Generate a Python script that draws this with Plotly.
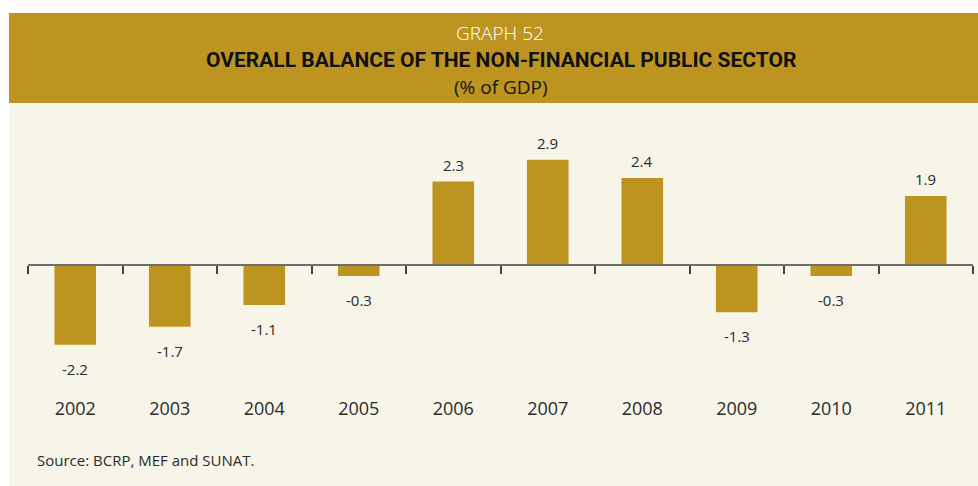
import plotly.graph_objects as go

# Overall balance of the non-financial public sector, % of GDP
years = ["2002", "2003", "2004", "2005", "2006", "2007", "2008", "2009", "2010", "2011"]
balance = [-2.2, -1.7, -1.1, -0.3, 2.3, 2.9, 2.4, -1.3, -0.3, 1.9]

W, H = 978, 486
M_L, M_R, M_T, M_B = 28, 5, 113, 90
Y_MIN, Y_MAX = -3.61, 4.19

GOLD = "#BD9420"
CREAM = "#F7F4E8"
AXIS = "#6E6E6E"
TEXT = "#2B2B2B"
COND = "Liberation Sans Narrow, Roboto, sans-serif"
SANS = "Open Sans, Noto Sans, sans-serif"

plot_w = W - M_L - M_R
plot_h = H - M_T - M_B


def px_x(x):
    return (x - M_L) / plot_w


def px_y(y):
    return (H - M_B - y) / plot_h


fig = go.Figure()

fig.add_trace(go.Bar(
    x=years, y=balance, marker=dict(color=GOLD, line=dict(width=0)),
    width=0.44, hoverinfo="x+y", showlegend=False,
))

# invisible trace that carries the zero axis (line + boundary ticks)
n = len(years)
fig.add_trace(go.Scatter(
    x=[-0.5, n - 0.5], y=[0, 0], xaxis="x2", mode="lines",
    line=dict(width=0), hoverinfo="skip", showlegend=False,
))

# value labels above / below each bar (category index used as x)
for i, v in enumerate(balance):
    fig.add_annotation(
        x=i, y=v, xref="x", yref="y", text=f"{v:.1f}", showarrow=False,
        xanchor="center", yanchor="middle", yshift=17 if v >= 0 else -24,
        font=dict(family=SANS, size=15, color=TEXT),
    )

# header band and panel background
fig.add_shape(type="rect", xref="paper", yref="paper",
              x0=px_x(9), x1=px_x(W), y0=px_y(103), y1=px_y(13),
              fillcolor=GOLD, line=dict(width=0), layer="below")
fig.add_shape(type="rect", xref="paper", yref="paper",
              x0=px_x(9), x1=px_x(W), y0=px_y(H), y1=px_y(103),
              fillcolor=CREAM, line=dict(width=0), layer="below")

fig.add_annotation(xref="paper", yref="paper", x=px_x(500), y=px_y(33),
                   xanchor="center", yanchor="middle",
                   text="GRAPH 52", showarrow=False,
                   font=dict(family=SANS, size=19, weight=300, color="white"))
fig.add_annotation(xref="paper", yref="paper", x=px_x(501), y=px_y(60),
                   xanchor="center", yanchor="middle",
                   text="<b>OVERALL BALANCE OF THE NON-FINANCIAL PUBLIC SECTOR</b>",
                   showarrow=False,
                   font=dict(family=COND, size=21, color="#111111"))
fig.add_annotation(xref="paper", yref="paper", x=px_x(501), y=px_y(87),
                   xanchor="center", yanchor="middle",
                   text="(% of GDP)", showarrow=False,
                   font=dict(family=SANS, size=19, color="#151515"))
fig.add_annotation(xref="paper", yref="paper", x=px_x(35), y=px_y(460),
                   xanchor="left", yanchor="middle",
                   text="Source: BCRP, MEF and SUNAT.",
                   showarrow=False,
                   font=dict(family=SANS, size=15, color=TEXT))

fig.update_layout(
    width=W, height=H,
    margin=dict(l=M_L, r=M_R, t=M_T, b=M_B),
    paper_bgcolor="white", plot_bgcolor="rgba(0,0,0,0)",
    bargap=0.56,
    xaxis=dict(
        type="category", categoryorder="array", categoryarray=years,
        range=[-0.5, n - 0.5], showline=False, ticks="", showgrid=False,
        zeroline=False, tickfont=dict(family=SANS, size=18, color=TEXT),
        fixedrange=True,
    ),
    xaxis2=dict(
        overlaying="x", anchor="free",
        position=(0 - Y_MIN) / (Y_MAX - Y_MIN),
        range=[-0.5, n - 0.5], showline=True, linecolor=AXIS, linewidth=2,
        ticks="outside", ticklen=8, tickwidth=2, tickcolor="#444444",
        tickvals=[i - 0.5 for i in range(n + 1)], showticklabels=False,
        showgrid=False, zeroline=False,
    ),
    yaxis=dict(range=[Y_MIN, Y_MAX], visible=False, fixedrange=True),
)

fig.write_html("out.html")
